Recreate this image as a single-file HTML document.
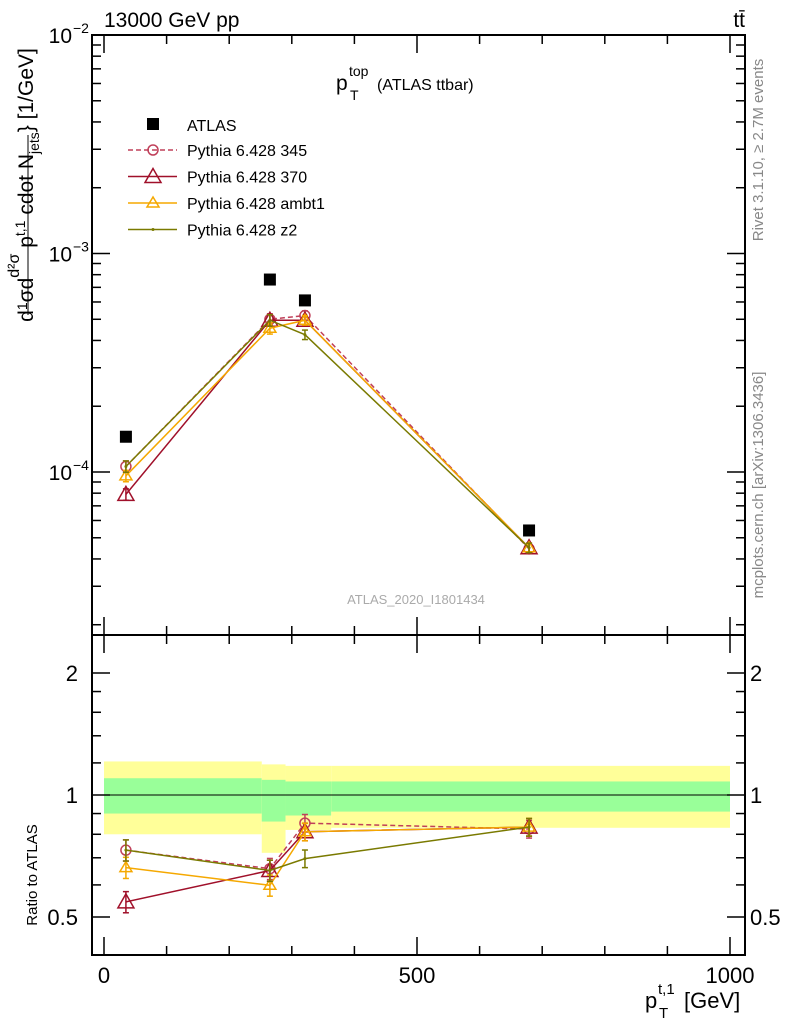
<!DOCTYPE html>
<html><head><meta charset="utf-8"><style>
body{margin:0;background:#fff}
svg{display:block;font-family:"Liberation Sans",sans-serif}
</style></head><body>
<svg id="c" width="786" height="1024" viewBox="0 0 786 1024"></svg>
<script>
const binEdges=[0,252,290,363,1000];
const xCenters=[35,265,321,679];
const atlas=[1.45e-4,7.6e-4,6.1e-4,5.4e-5];
const atlasErr=[0.02,0.02,0.02,0.03];
const yellowUp=[1.21,1.19,1.18,1.18];
const yellowDn=[0.80,0.72,0.82,0.83];
const greenUp=[1.10,1.09,1.08,1.08];
const greenDn=[0.90,0.86,0.89,0.91];
const p345=[1.06e-4,5.0e-4,5.2e-4,4.45e-5];
const p370=[7.9e-5,4.95e-4,4.95e-4,4.5e-5];
const pambt1=[9.6e-5,4.55e-4,4.95e-4,4.5e-5];
const pz2=[1.06e-4,4.95e-4,4.25e-4,4.5e-5];
const relErr=[0.06,0.06,0.05,0.05];
const xTicks=[0,500,1000];

const NS="http://www.w3.org/2000/svg";
const svg=document.getElementById('c');
const L=92,R=745,T=35,MB=635,RB=955;
const X=v=>104+v*0.626;
const Y=v=>472-(Math.log10(v)+4)*218.5;
const YR=r=>795-Math.log2(r)*122;
function el(tag,attrs,parent,name,text){const e=document.createElementNS(NS,tag);for(const k in attrs)e.setAttribute(k,attrs[k]);


if(text!==undefined)e.textContent=text;(parent||svg).appendChild(e);return e;}
function clip(id,y1,y2){const cp=el('clipPath',{id:id},svg,'clip');el('rect',{x:L,y:y1,width:R-L,height:y2-y1},cp,'clip-rect');}
clip('cm',T,MB);clip('cr',MB,RB);

const gBand=el('g',{'clip-path':'url(#cr)'},svg,'ratio-bands');
for(let i=0;i<4;i++){
 const x1=X(binEdges[i]),x2=X(binEdges[i+1]);
 el('rect',{x:x1,y:YR(yellowUp[i]),width:x2-x1,height:YR(yellowDn[i])-YR(yellowUp[i]),fill:'#ffff99'},gBand,'yellow-band-bin'+i);
 el('rect',{x:x1,y:YR(greenUp[i]),width:x2-x1,height:YR(greenDn[i])-YR(greenUp[i]),fill:'#99ff99'},gBand,'green-band-bin'+i);
}
el('line',{x1:X(0),x2:X(1000),y1:YR(1),y2:YR(1),stroke:'#000','stroke-width':1},svg,'ratio-unity-line');

el('rect',{x:L,y:T,width:R-L,height:MB-T,fill:'none',stroke:'#000','stroke-width':2},svg,'main-frame');
el('rect',{x:L,y:MB,width:R-L,height:RB-MB,fill:'none',stroke:'#000','stroke-width':2},svg,'ratio-frame');

for(let v=0;v<=1000;v+=100){
 const maj=v%500===0,len=maj?18:9,x=X(v);
 [[T,1],[MB,-1],[MB,1],[RB,-1]].forEach(([y,d])=>el('line',{x1:x,x2:x,y1:y,y2:y+d*len,stroke:'#000','stroke-width':1.5},svg,'x-tick'));
}
xTicks.forEach(v=>el('text',{x:X(v),y:983,'font-size':22,'text-anchor':'middle'},svg,'x-tick-label',String(v)));

for(let e=-5;e<=-2;e++){for(let m=1;m<=9;m++){const v=m*Math.pow(10,e);const y=Y(v);if(y<T-0.5||y>MB)continue;
 const len=m===1?18:9;
 el('line',{x1:L,x2:L+len,y1:y,y2:y,stroke:'#000','stroke-width':1.5},svg,'y-tick');
 el('line',{x1:R,x2:R-len,y1:y,y2:y,stroke:'#000','stroke-width':1.5},svg,'y-tick');}}
[[-2,Y(1e-2)],[-3,Y(1e-3)],[-4,Y(1e-4)]].forEach(([e,y])=>{
 el('text',{x:72,y:y+8,'font-size':21,'text-anchor':'end'},svg,'y-tick-label','10');
 el('text',{x:73,y:y-2,'font-size':14},svg,'y-tick-exponent','−'+(-e));
});
[0.5,0.6,0.7,0.8,0.9,1,1.2,1.4,1.6,1.8,2].forEach(r=>{const y=YR(r);const maj=(r===0.5||r===1||r===2);const len=maj?18:9;
 el('line',{x1:L,x2:L+len,y1:y,y2:y,stroke:'#000','stroke-width':1.5},svg,'ratio-tick');
 el('line',{x1:R,x2:R-len,y1:y,y2:y,stroke:'#000','stroke-width':1.5},svg,'ratio-tick');});
[[2,'2'],[1,'1'],[0.5,'0.5']].forEach(([r,s])=>{
 el('text',{x:78,y:YR(r)+8,'font-size':22,'text-anchor':'end'},svg,'ratio-tick-label-left',s);
 el('text',{x:750,y:YR(r)+8,'font-size':22},svg,'ratio-tick-label-right',s);});

const series=[
 {n:'p345',d:p345,c:'#c0405a',dash:'5,3',m:'circle',name:'Pythia 6.428 345'},
 {n:'p370',d:p370,c:'#a0102a',dash:'',m:'tri-big',name:'Pythia 6.428 370'},
 {n:'ambt1',d:pambt1,c:'#f5a800',dash:'',m:'tri',name:'Pythia 6.428 ambt1'},
 {n:'z2',d:pz2,c:'#7a7a00',dash:'',m:'dot',name:'Pythia 6.428 z2'}];
function marker(g,m,x,y,c,nm){
 if(m==='circle')el('circle',{cx:x,cy:y,r:5,fill:'none',stroke:c,'stroke-width':1.5},g,nm);
 else if(m==='tri-big')el('polygon',{points:`${x},${y-8} ${x-8},${y+6} ${x+8},${y+6}`,fill:'none',stroke:c,'stroke-width':1.5},g,nm);
 else if(m==='tri')el('polygon',{points:`${x},${y-6} ${x-6},${y+4} ${x+6},${y+4}`,fill:'none',stroke:c,'stroke-width':1.5},g,nm);
 else el('circle',{cx:x,cy:y,r:1.5,fill:c},g,nm);
}
function drawSeries(s,ratio){
 const g=el('g',{'clip-path':ratio?'url(#cr)':'url(#cm)'},svg,(ratio?'ratio-':'main-')+'series-'+s.n);
 const ys=s.d.map((v,i)=>ratio?YR(v/atlas[i]):Y(v));
 const pts=xCenters.map((xv,i)=>X(xv)+','+ys[i]).join(' ');
 el('polyline',{points:pts,fill:'none',stroke:s.c,'stroke-width':1.5,'stroke-dasharray':s.dash},g,'line-'+s.n);
 s.d.forEach((v,i)=>{const x=X(xCenters[i]);
  const val=ratio?v/atlas[i]:v;const f=ratio?YR:Y;
  const y1=f(val*(1+relErr[i])),y2=f(val*(1-relErr[i]));
  el('line',{x1:x,x2:x,y1:y1,y2:y2,stroke:s.c,'stroke-width':1.5},g,'errorbar-'+s.n);
  el('line',{x1:x-3,x2:x+3,y1:y1,y2:y1,stroke:s.c,'stroke-width':1.5},g,'errorcap-'+s.n);
  el('line',{x1:x-3,x2:x+3,y1:y2,y2:y2,stroke:s.c,'stroke-width':1.5},g,'errorcap-'+s.n);
  marker(g,s.m,x,ys[i],s.c,'point-'+s.n);});
}
series.forEach(s=>{drawSeries(s,false);drawSeries(s,true);});
atlas.forEach((v,i)=>el('rect',{x:X(xCenters[i])-6,y:Y(v)-6,width:12,height:12,fill:'#000'},svg,'atlas-point'));

const lg=el('g',{},svg,'legend');
el('rect',{x:147,y:118,width:12,height:12,fill:'#000'},lg,'legend-atlas-marker');
el('text',{x:187,y:131,'font-size':16},lg,'legend-atlas-label','ATLAS');
series.forEach((s,i)=>{const y=150+i*26.5;
 el('line',{x1:128,x2:177,y1:y,y2:y,stroke:s.c,'stroke-width':1.5,'stroke-dasharray':s.dash},lg,'legend-line-'+s.n);
 marker(lg,s.m,153,y,s.c,'legend-marker-'+s.n);
 el('text',{x:187,y:y+6,'font-size':16},lg,'legend-label-'+s.n,s.name);});

el('text',{x:104,y:27,'font-size':21},svg,'energy-label','13000 GeV pp');
el('text',{x:745,y:27,'font-size':21,'text-anchor':'end'},svg,'process-label','tt̄');
el('text',{x:336,y:90,'font-size':21},svg,'plot-title-p','p');
el('text',{x:349,y:76,'font-size':14},svg,'plot-title-sup','top');
el('text',{x:350,y:100,'font-size':14},svg,'plot-title-sub','T');
el('text',{x:377,y:90,'font-size':16},svg,'plot-title-text','(ATLAS ttbar)');
el('text',{x:416,y:604,'font-size':13,fill:'#aaa','text-anchor':'middle'},svg,'analysis-id','ATLAS_2020_I1801434');
el('text',{x:645,y:1008,'font-size':22},svg,'x-axis-title-p','p');
el('text',{x:658,y:994,'font-size':15},svg,'x-axis-title-sup','t,1');
el('text',{x:659,y:1018,'font-size':15},svg,'x-axis-title-sub','T');
el('text',{x:684,y:1008,'font-size':22},svg,'x-axis-title-unit','[GeV]');
el('text',{x:0,y:0,'font-size':15,transform:'translate(37,875) rotate(-90)','text-anchor':'middle'},svg,'ratio-axis-title','Ratio to ATLAS');
const yl=el('text',{x:0,y:0,'font-size':21,transform:'translate(33,185) rotate(-90)','text-anchor':'middle'},svg,'y-axis-title');
yl.innerHTML='d<tspan font-size="14" dy="-6">1</tspan><tspan dy="6">σ</tspan>d<tspan dy="-14" font-size="16">d²σ</tspan><tspan dy="14"> p</tspan><tspan font-size="14" dy="-8">t,1</tspan><tspan dy="8"> cdot N</tspan><tspan font-size="14" dy="6">jets</tspan><tspan dy="-6">} [1/GeV]</tspan>';
el('line',{x1:28,x2:28,y1:135,y2:315,stroke:'#000','stroke-width':1},svg,'y-axis-fraction-bar');
el('text',{x:0,y:0,'font-size':15,fill:'#888',transform:'translate(763,150) rotate(-90)','text-anchor':'middle'},svg,'rivet-label','Rivet 3.1.10, ≥ 2.7M events');
el('text',{x:0,y:0,'font-size':15,fill:'#888',transform:'translate(763,485) rotate(-90)','text-anchor':'middle'},svg,'mcplots-label','mcplots.cern.ch [arXiv:1306.3436]');
</script>
</body></html>
